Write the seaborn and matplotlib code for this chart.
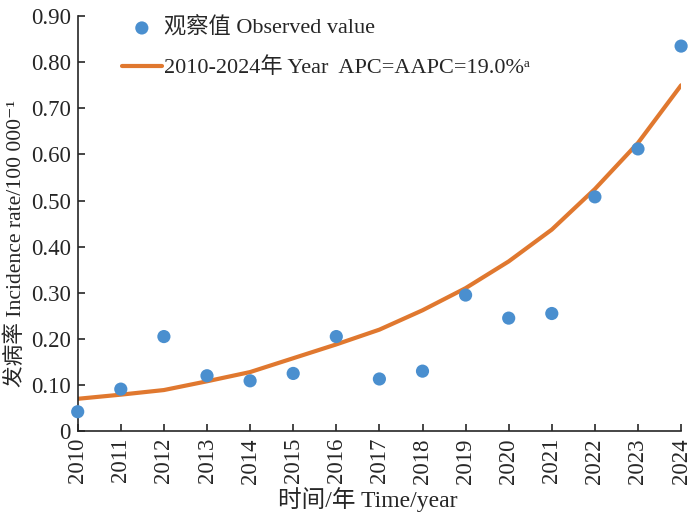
import numpy as np
import pandas as pd
import seaborn as sns
import matplotlib
matplotlib.use("Agg")
import matplotlib.pyplot as plt

years = [2010, 2011, 2012, 2013, 2014, 2015, 2016, 2017,
         2018, 2019, 2020, 2021, 2022, 2023, 2024]
observed = [0.042, 0.091, 0.205, 0.120, 0.109, 0.125, 0.205, 0.113,
            0.130, 0.295, 0.245, 0.255, 0.508, 0.612, 0.835]
fitted = [0.070, 0.079, 0.089, 0.108, 0.128, 0.158, 0.188, 0.220,
          0.262, 0.310, 0.368, 0.437, 0.525, 0.625, 0.750]
y_ticks = [0, 0.1, 0.2, 0.3, 0.4, 0.5, 0.6, 0.7, 0.8, 0.9]
y_tick_labels = ["0", "0.10", "0.20", "0.30", "0.40", "0.50",
                 "0.60", "0.70", "0.80", "0.90"]

sns.set_style("ticks")
plt.rcParams["font.family"] = ["Liberation Serif", "Noto Sans CJK SC", "DejaVu Sans"]

df = pd.DataFrame({"year": years, "observed": observed, "fitted": fitted})

fig = plt.figure(figsize=(7, 5.2), dpi=100)
ax = fig.add_axes([0.111, 0.171, 0.862, 0.798])

sns.scatterplot(data=df, x="year", y="observed", ax=ax, color="#4a8fcf",
                s=90, edgecolor="none", zorder=3, clip_on=False,
                label="观察值 Observed value")
sns.lineplot(data=df, x="year", y="fitted", ax=ax, color="#e0782f",
             linewidth=3, zorder=2,
             label="2010-2024年 Year  APC=AAPC=19.0%ᵃ")

ax.set_xlim(2010, 2024)
ax.set_ylim(0, 0.9)
ax.set_xticks(years)
ax.set_xticklabels([str(y) for y in years], rotation=90, fontsize=16.5)
ax.set_yticks(y_ticks)
ax.set_yticklabels(y_tick_labels, fontsize=16.5)
ax.tick_params(direction="in", length=5, width=1.2, pad=5)
for side in ["left", "bottom"]:
    ax.spines[side].set_linewidth(1.2)
sns.despine(ax=ax)

ax.set_xlabel("时间/年 Time/year", fontsize=17)
ax.xaxis.set_label_coords(0.481, -0.135)
ax.set_ylabel("发病率 Incidence rate/100 000⁻¹", fontsize=15.6)
ax.yaxis.set_label_coords(-0.085, 0.453)

ax.legend(loc="upper left", frameon=False, fontsize=16,
          bbox_to_anchor=(0.04, 1.045), handlelength=1.8,
          handletextpad=0.1, labelspacing=0.85)

fig.savefig("out.png", dpi=100)
